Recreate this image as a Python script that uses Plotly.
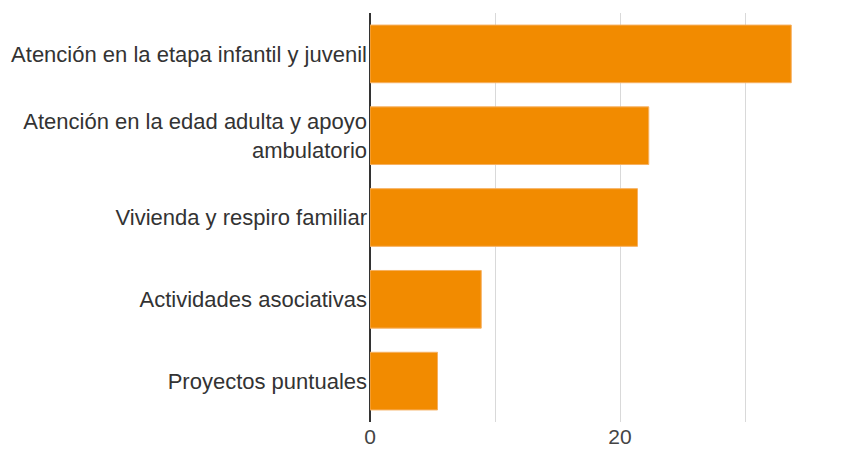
import plotly.graph_objects as go

categories = [
    "Atención en la etapa infantil y juvenil",
    "Atención en la edad adulta y apoyo<br>ambulatorio",
    "Vivienda y respiro familiar",
    "Actividades asociativas",
    "Proyectos puntuales",
]
values = [33.7, 22.3, 21.4, 8.9, 5.4]
x_tickvals = [0, 10, 20, 30]
x_ticktext = ["0", "", "20", ""]

fig = go.Figure(
    go.Bar(
        x=values,
        y=categories,
        orientation="h",
        marker=dict(color="#F28B00", line=dict(color="#F6B060", width=1)),
    )
)

fig.update_layout(
    width=862,
    height=454,
    margin=dict(l=370, r=42, t=13, b=32, autoexpand=False),
    paper_bgcolor="white",
    plot_bgcolor="white",
    bargap=0.295,
    showlegend=False,
    font=dict(family="Arial, Liberation Sans, sans-serif", size=22, color="#333333"),
)
fig.update_xaxes(
    range=[0, 36],
    tickvals=x_tickvals,
    ticktext=x_ticktext,
    showgrid=True,
    gridcolor="#d9d9d9",
    gridwidth=1,
    zeroline=True,
    zerolinecolor="#333333",
    zerolinewidth=1.5,
    showline=False,
    ticks="",
    automargin=False,
    tickfont=dict(size=21, color="#444444"),
)
fig.update_yaxes(
    autorange="reversed",
    showgrid=False,
    showline=False,
    ticks="",
    automargin=False,
    ticklabelstandoff=2,
    tickfont=dict(size=22, color="#333333"),
)

fig.write_html(
    "out.html",
    config={"displayModeBar": False},
    post_script="document.body.style.margin='0';document.body.style.overflow='hidden';",
)
